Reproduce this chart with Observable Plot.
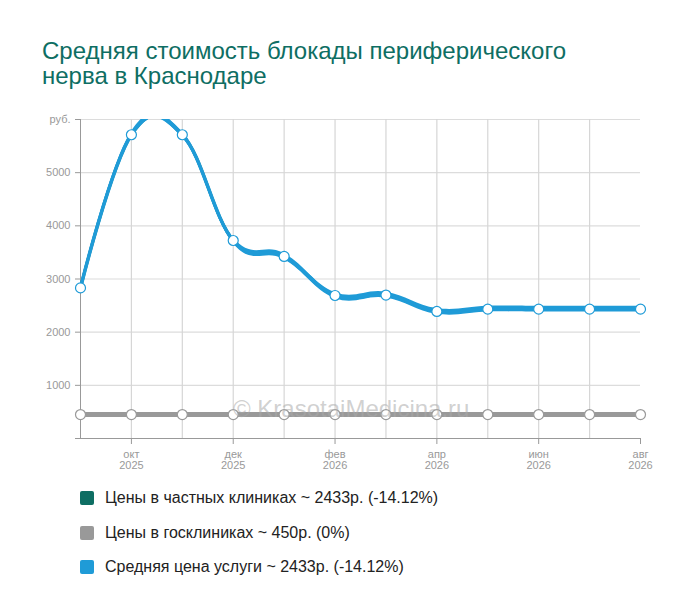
<!DOCTYPE html>
<html><head><meta charset="utf-8">
<script src="https://cdn.jsdelivr.net/npm/d3@7"></script>
<script src="https://cdn.jsdelivr.net/npm/@observablehq/plot@0.6"></script>
<style>
body{margin:0;background:#fff;font-family:Arial,"Liberation Sans",sans-serif;}
#wrap{position:relative;width:700px;height:616px;overflow:hidden;background:#fff}
#title{position:absolute;left:42px;top:38px;font-size:24px;line-height:25px;color:#0e6e63;white-space:nowrap}
#chart{position:absolute;left:0;top:0}
#wm{position:absolute;left:233px;top:396px;font-size:24px;line-height:25px;color:rgba(170,170,170,0.55);white-space:nowrap;pointer-events:none}
#legend{position:absolute;left:80px;top:491px}
.item{display:flex;align-items:center;height:14px;margin-bottom:20.5px;font-size:16px;color:#222;white-space:nowrap}
.sw{width:14px;height:14px;border-radius:2px;margin-right:11px;flex:none}
</style></head>
<body>
<div id="wrap">
  <div id="title">Средняя стоимость блокады периферического<br>нерва в Краснодаре</div>
  <div id="chart"></div>
  <div id="wm">© KrasotaiMedicina.ru</div>
  <div id="legend"></div>
</div>
<script>
const monthNames = ["сен","окт","ноя","дек","янв","фев","мар","апр","май","июн","июл","авг"];
const years = [2025,2025,2025,2025,2026,2026,2026,2026,2026,2026,2026,2026];
const privatePrices = [2833,5713,5713,3724,3424,2690,2698,2390,2433,2433,2433,2433];
const publicPrices  = [450,450,450,450,450,450,450,450,450,450,450,450];
const avgPrices     = [2833,5713,5713,3724,3424,2690,2698,2390,2433,2433,2433,2433];
const tickMonths = ["окт","дек","фев","апр","июн","авг"];
const yTicks = [0,1000,2000,3000,4000,5000,6000];
const yTickLabels = ["","1000","2000","3000","4000","5000","руб."];
const seriesNames = ["Цены в частных клиниках ~ 2433р. (-14.12%)","Цены в госклиниках ~ 450р. (0%)","Средняя цена услуги ~ 2433р. (-14.12%)"];
const seriesColors = ["#0e6e63","#999999","#1f9bd7"];

const labels = monthNames.map((m,i)=>m+" "+years[i]);
const rows = labels.map((l,i)=>({month:l, priv:privatePrices[i], pub:publicPrices[i], avg:avgPrices[i]}));
const xTicks = labels.filter(l=>tickMonths.includes(l.split(" ")[0]));
const gridMonths = labels.slice(1, labels.length-1);
const curve = d3.curveCardinal.tension(-0.2);

const chart = Plot.plot({
  width: 700, height: 480,
  marginLeft: 80, marginRight: 60, marginTop: 119, marginBottom: 42,
  style: {fontFamily: 'Arial, "Liberation Sans", sans-serif', fontSize: "11px", color: "#999", background: "transparent"},
  x: {type: "point", domain: labels, padding: 0, round: false, label: null},
  y: {domain: [0, 6000], label: null},
  marks: [
    Plot.gridY(yTicks.slice(1), {stroke: "#dcdcdc", strokeOpacity: 1, strokeWidth: 1.2}),
    Plot.gridX(gridMonths, {stroke: "#d6d6d6", strokeOpacity: 1, strokeWidth: 1.2}),
    Plot.axisY(yTicks, {tickSize: 5, tickPadding: 5, tickFormat: (d)=>yTickLabels[yTicks.indexOf(d)], color: "#999", fontSize: 11, label: null}),
    Plot.axisX(xTicks, {tickSize: 6, tickPadding: 6, tickFormat: (d)=>d.replace(" ","\n"), color: "#999", fontSize: 11, lineHeight: 1, label: null}),
    Plot.ruleX([labels[0]], {y1: 0, y2: 6000, stroke: "#999"}),
    Plot.ruleY([0], {stroke: "#999"}),
    Plot.line(rows, {x: "month", y: "pub", stroke: seriesColors[1], strokeWidth: 5, curve}),
    Plot.line(rows, {x: "month", y: "priv", stroke: seriesColors[0], strokeWidth: 3, curve, clip: true}),
    Plot.areaY(rows, {x: "month", y1: d=>d.avg-55, y2: d=>d.avg+55, fill: seriesColors[2], curve, clip: true}),
    Plot.line(rows, {x: "month", y: "avg", stroke: seriesColors[2], strokeWidth: 3.5, curve, clip: true}),
    Plot.dot(rows, {x: "month", y: "pub", r: 5, fill: "white", stroke: seriesColors[1], strokeWidth: 1.2}),
    Plot.dot(rows, {x: "month", y: "avg", r: 5, fill: "white", stroke: seriesColors[2], strokeWidth: 1.2})
  ]
});
document.getElementById("chart").appendChild(chart);

const legend = document.getElementById("legend");
seriesNames.forEach((n,i)=>{
  const it = document.createElement("div"); it.className = "item";
  const sw = document.createElement("div"); sw.className = "sw"; sw.style.background = seriesColors[i];
  const tx = document.createElement("span"); tx.textContent = n;
  it.appendChild(sw); it.appendChild(tx); legend.appendChild(it);
});
</script>
</body></html>
